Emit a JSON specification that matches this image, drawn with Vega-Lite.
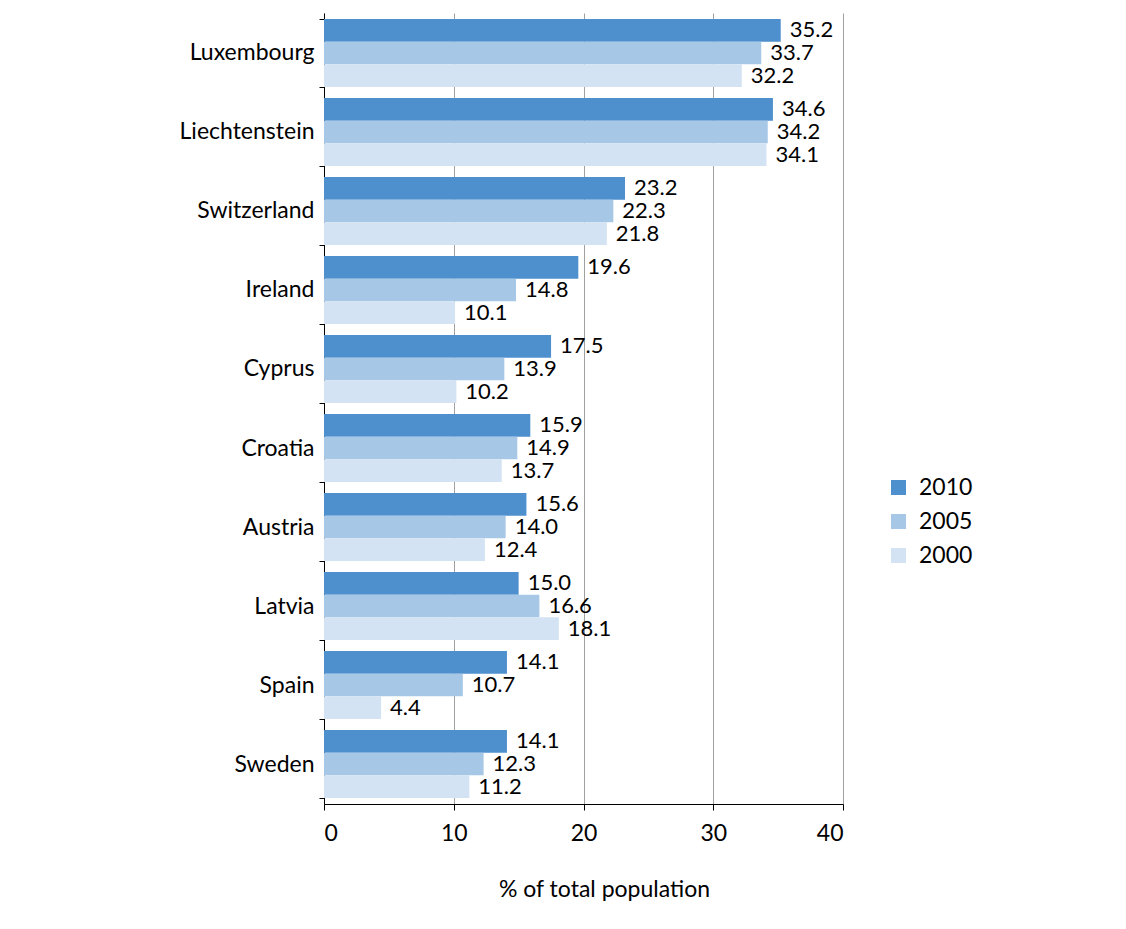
{
  "$schema": "https://vega.github.io/schema/vega-lite/v6.json",
  "autosize": {"type": "none"},
  "padding": {"left": 324, "top": 13, "right": 283, "bottom": 125},
  "width": 519,
  "height": 791,
  "background": "white",
  "config": {
    "font": "Lato",
    "view": {"stroke": null},
    "axis": {"labelFont": "Lato", "titleFont": "Lato", "labelColor": "black", "titleColor": "black"}
  },
  "data": {
    "values": [
      {"country": "Luxembourg", "year": "2010", "value": 35.2},
      {"country": "Luxembourg", "year": "2005", "value": 33.7},
      {"country": "Luxembourg", "year": "2000", "value": 32.2},
      {"country": "Liechtenstein", "year": "2010", "value": 34.6},
      {"country": "Liechtenstein", "year": "2005", "value": 34.2},
      {"country": "Liechtenstein", "year": "2000", "value": 34.1},
      {"country": "Switzerland", "year": "2010", "value": 23.2},
      {"country": "Switzerland", "year": "2005", "value": 22.3},
      {"country": "Switzerland", "year": "2000", "value": 21.8},
      {"country": "Ireland", "year": "2010", "value": 19.6},
      {"country": "Ireland", "year": "2005", "value": 14.8},
      {"country": "Ireland", "year": "2000", "value": 10.1},
      {"country": "Cyprus", "year": "2010", "value": 17.5},
      {"country": "Cyprus", "year": "2005", "value": 13.9},
      {"country": "Cyprus", "year": "2000", "value": 10.2},
      {"country": "Croatia", "year": "2010", "value": 15.9},
      {"country": "Croatia", "year": "2005", "value": 14.9},
      {"country": "Croatia", "year": "2000", "value": 13.7},
      {"country": "Austria", "year": "2010", "value": 15.6},
      {"country": "Austria", "year": "2005", "value": 14.0},
      {"country": "Austria", "year": "2000", "value": 12.4},
      {"country": "Latvia", "year": "2010", "value": 15.0},
      {"country": "Latvia", "year": "2005", "value": 16.6},
      {"country": "Latvia", "year": "2000", "value": 18.1},
      {"country": "Spain", "year": "2010", "value": 14.1},
      {"country": "Spain", "year": "2005", "value": 10.7},
      {"country": "Spain", "year": "2000", "value": 4.4},
      {"country": "Sweden", "year": "2010", "value": 14.1},
      {"country": "Sweden", "year": "2005", "value": 12.3},
      {"country": "Sweden", "year": "2000", "value": 11.2}
    ]
  },
  "encoding": {
    "y": {
      "field": "country",
      "type": "nominal",
      "sort": null,
      "scale": {"paddingInner": 0.14, "paddingOuter": 0.076},
      "axis": {
        "title": null,
        "labelFontSize": 23,
        "labelPadding": 5,
        "tickBand": "extent",
        "tickSize": 5,
        "tickColor": "black",
        "domainColor": "black",
        "grid": false
      }
    },
    "yOffset": {
      "field": "year",
      "type": "nominal",
      "sort": ["2010", "2005", "2000"],
      "scale": {"paddingInner": 0, "paddingOuter": 0}
    },
    "x": {
      "field": "value",
      "type": "quantitative",
      "scale": {"domain": [0, 40], "nice": false},
      "axis": {
        "title": "% of total population",
        "values": [0, 10, 20, 30, 40],
        "grid": true,
        "gridColor": "#a0a0a0",
        "gridWidth": 1,
        "domainColor": "black",
        "tickColor": "black",
        "tickSize": 6,
        "labelFontSize": 23,
        "labelPadding": 12,
        "titleFontSize": 23,
        "titleFontWeight": "normal",
        "titleX": 280,
        "titleY": 92,
        "titleBaseline": "alphabetic"
      }
    }
  },
  "layer": [
    {
      "mark": {"type": "bar"},
      "encoding": {
        "color": {
          "field": "year",
          "type": "nominal",
          "scale": {"domain": ["2010", "2005", "2000"], "range": ["#4e8fcd", "#a7c7e6", "#d3e3f3"]},
          "legend": {
            "title": null,
            "orient": "none",
            "legendX": 563,
            "legendY": 463,
            "symbolType": "square",
            "symbolSize": 225,
            "symbolStrokeWidth": 0,
            "labelFontSize": 23,
            "labelFont": "Lato",
            "labelColor": "black",
            "labelOffset": 9,
            "rowPadding": 10,
            "padding": 0
          }
        }
      }
    },
    {
      "mark": {"type": "text", "align": "left", "baseline": "middle", "dx": 9, "fontSize": 22, "font": "Lato", "color": "black"},
      "encoding": {
        "text": {"field": "value", "type": "quantitative", "format": ".1f"}
      }
    }
  ]
}
